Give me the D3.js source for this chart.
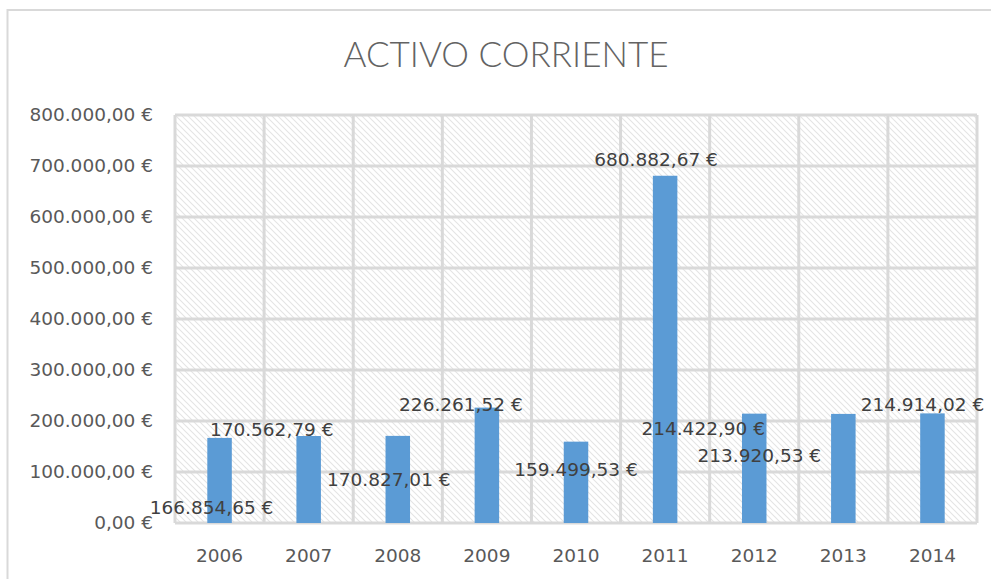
<!DOCTYPE html>
<meta charset="utf-8">
<style>
    body { margin: 0; background: #fff; }
    .year, .ylab { font: 18.5px "DejaVu Sans", sans-serif; fill: #595959; }
    .label { font: 18.5px "DejaVu Sans", sans-serif; fill: #404040; }
    .title { font: 300 36px Lato, "Open Sans", sans-serif; fill: #636363; }
</style>
<body>
    <svg width="991" height="579"></svg>
</body>
<script src="https://d3js.org/d3.v7.min.js"></script>
<script>
    var years = ["2006", "2007", "2008", "2009", "2010", "2011", "2012", "2013", "2014"];
    var values = [166854.65, 170562.79, 170827.01, 226261.52, 159499.53, 680882.67, 214422.90, 213920.53, 214914.02];
    var yTicks = [0, 100000, 200000, 300000, 400000, 500000, 600000, 700000, 800000];
    // labels were dragged around by hand in the original, so keep offsets from the bar top
    var labelDx = [-8, -37, -9, -26, 0, -9, -51, -84, -10];
    var labelDy = [70, -6, 44, -3, 28, -16, 15, 42, -9];

    var svg = d3.select("svg");

    var fmt = function (v) {
        var s = d3.format(",.2f")(v);
        return s.replace(/,/g, "#").replace(".", ",").replace(/#/g, ".") + " €";
    };

    // hatch pattern for the plot background
    var defs = svg.append("defs");
    var pat = defs.append("pattern")
        .attr("id", "hatch")
        .attr("patternUnits", "userSpaceOnUse")
        .attr("width", 6)
        .attr("height", 6);
    pat.append("path")
        .attr("d", "M-1,-1 L7,7 M-4,2 L4,10 M2,-4 L10,4")
        .attr("stroke", "#e4e4e4")
        .attr("stroke-width", 1.1);

    // chart border
    svg.append("rect")
        .attr("x", 7.5).attr("y", 10)
        .attr("width", 1000).attr("height", 600)
        .attr("fill", "none")
        .attr("stroke", "#d9d9d9")
        .attr("stroke-width", 2);

    svg.append("text")
        .attr("class", "title")
        .attr("x", 506)
        .attr("y", 67)
        .attr("text-anchor", "middle")
        .attr("textLength", 325)
        .attr("lengthAdjust", "spacingAndGlyphs")
        .text("ACTIVO CORRIENTE");

    var pLeft = 175, pRight = 977, pTop = 115, pBottom = 523;

    var x = d3.scaleBand().domain(years).range([pLeft, pRight]).paddingInner(0.725).paddingOuter(0.3625);
    var xc = d3.scaleBand().domain(years).range([pLeft, pRight]);
    var y = d3.scaleLinear().domain([0, 800000]).range([pBottom, pTop]);

    svg.append("rect")
        .attr("x", pLeft).attr("y", pTop)
        .attr("width", pRight - pLeft).attr("height", pBottom - pTop)
        .attr("fill", "url(#hatch)");

    // gridlines
    svg.append("g").selectAll("line")
        .data(yTicks)
        .enter().append("line")
        .attr("x1", pLeft).attr("x2", pRight)
        .attr("y1", function (d) { return y(d); })
        .attr("y2", function (d) { return y(d); })
        .attr("stroke", "#d9d9d9")
        .attr("stroke-width", 3);

    svg.append("g").selectAll("line")
        .data(years.concat(["end"]))
        .enter().append("line")
        .attr("x1", function (d, i) { return pLeft + i * xc.bandwidth(); })
        .attr("x2", function (d, i) { return pLeft + i * xc.bandwidth(); })
        .attr("y1", pTop).attr("y2", pBottom)
        .attr("stroke", "#d9d9d9")
        .attr("stroke-width", 3);

    // y labels
    svg.append("g").selectAll("text")
        .data(yTicks)
        .enter().append("text")
        .attr("class", "ylab")
        .attr("x", 153)
        .attr("y", function (d) { return y(d); })
        .attr("dy", "0.35em")
        .attr("text-anchor", "end")
        .text(fmt);

    // x labels
    svg.append("g").selectAll("text")
        .data(years)
        .enter().append("text")
        .attr("class", "year")
        .attr("x", function (d) { return xc(d) + xc.bandwidth() / 2; })
        .attr("y", 556)
        .attr("dy", "0.35em")
        .attr("text-anchor", "middle")
        .text(function (d) { return d; });

    svg.append("g").selectAll("rect")
        .data(values)
        .enter().append("rect")
        .attr("x", function (d, i) { return x(years[i]); })
        .attr("width", x.bandwidth())
        .attr("y", function (d) { return y(d); })
        .attr("height", function (d) { return pBottom - y(d); })
        .attr("fill", "#5b9bd5");

    svg.append("g").selectAll("text")
        .data(values)
        .enter().append("text")
        .attr("class", "label")
        .attr("x", function (d, i) { return x(years[i]) + x.bandwidth() / 2 + labelDx[i]; })
        .attr("y", function (d, i) { return y(d) + labelDy[i]; })
        .attr("dy", "0.35em")
        .attr("text-anchor", "middle")
        .text(fmt);
</script>
